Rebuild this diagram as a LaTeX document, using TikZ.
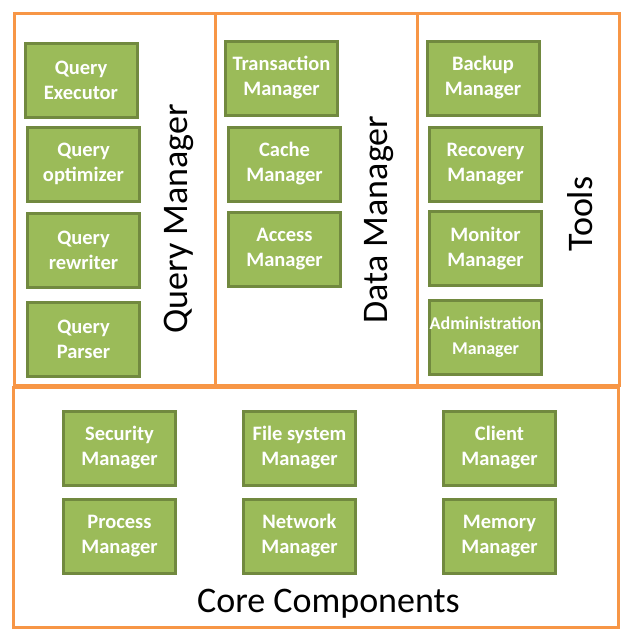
\documentclass[tikz,border=0pt]{standalone}
\usepackage{fontspec}
\setmainfont{Carlito}
\definecolor{boxfill}{HTML}{9BBB59}
\definecolor{boxline}{HTML}{71893F}
\definecolor{panel}{HTML}{F79646}
\begin{document}
\begin{tikzpicture}[x=1pt,y=-1pt,
    comp/.style={draw=boxline,fill=boxfill,line width=3pt,text=white,align=center,
      minimum width=112pt,minimum height=74pt,inner sep=0pt,
      font=\fontsize{20.5}{25}\selectfont\bfseries,
      execute at begin node={\rule{0pt}{22pt}}},
    frame/.style={draw=panel,line width=3pt},
    title/.style={font=\fontsize{36}{40}\selectfont,anchor=base}]
  \useasboundingbox (0,0) rectangle (632,638);
  % panels
  \draw[frame] (14,13) rectangle (215,385);
  \draw[frame] (215,13) rectangle (417,385);
  \draw[frame] (417,13) rectangle (619,385);
  \draw[frame] (13,387) rectangle (618,627);
  % query manager
  \node[comp] (exec) at (81,80) {Query\\Executor};
  \node[comp] (optim) at (83.5,164) {Query\\optimizer};
  \node[comp] (rewrite) at (83.5,250.5) {Query\\rewriter};
  \node[comp] (parse) at (83.5,339) {Query\\Parser};
  \node[title,rotate=90] (qm) at (187,219) {Query Manager};
  % data manager
  \node[comp] (trans) at (281.5,78) {Transaction\\Manager};
  \node[comp] (cache) at (284.5,164) {Cache\\Manager};
  \node[comp] (access) at (284.5,249.5) {Access\\Manager};
  \node[title,rotate=90] (dm) at (387,219.5) {Data Manager};
  % tools
  \node[comp] (backup) at (483,78) {Backup\\Manager};
  \node[comp] (recov) at (485.5,164) {Recovery\\Manager};
  \node[comp] (monit) at (485.5,248.5) {Monitor\\Manager};
  \node[comp,font=\fontsize{18}{25}\selectfont\bfseries] (admin) at (485.5,337.5) {Administration\\Manager};
  \node[title,rotate=90] (tools) at (592,214) {Tools};
  % core components
  \node[comp] (secur) at (119.5,448) {Security\\Manager};
  \node[comp] (proc) at (119.5,536) {Process\\Manager};
  \node[comp] (files) at (299.5,448) {File system\\Manager};
  \node[comp] (netw) at (299.5,536) {Network\\Manager};
  \node[comp] (client) at (499.5,448) {Client\\Manager};
  \node[comp] (memory) at (499.5,536) {Memory\\Manager};
  \node[title] (core) at (328.5,612) {Core Components};
\end{tikzpicture}
\end{document}
